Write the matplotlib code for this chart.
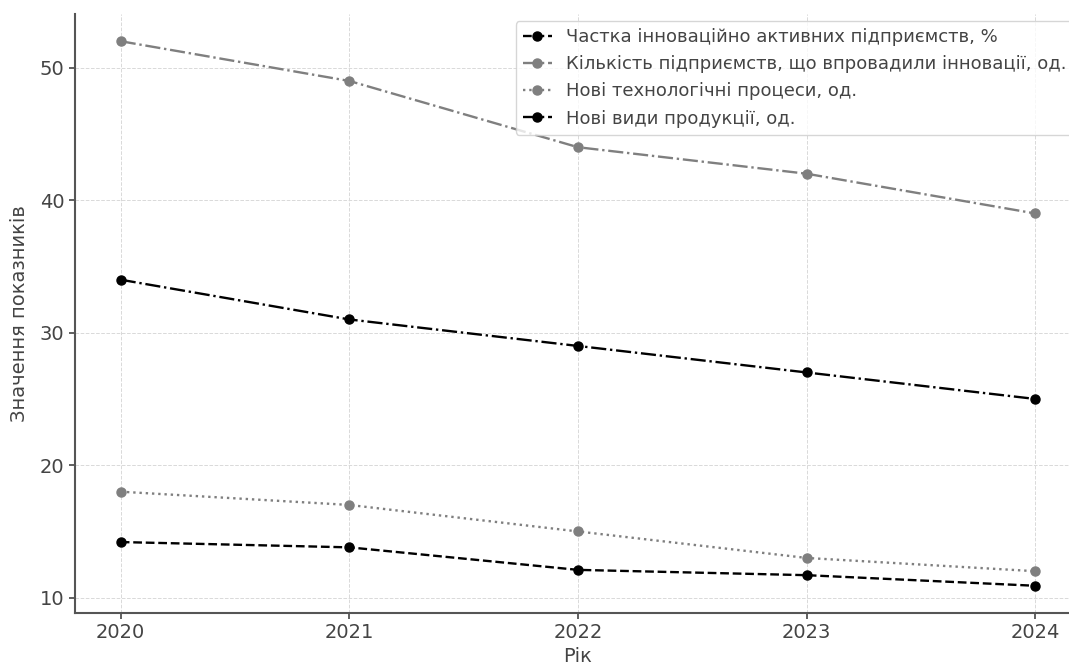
import matplotlib
matplotlib.use("Agg")
import matplotlib.pyplot as plt

years = [2020, 2021, 2022, 2023, 2024]
share_active = [14.2, 13.8, 12.1, 11.7, 10.9]
num_enterprises = [52, 49, 44, 42, 39]
new_processes = [18, 17, 15, 13, 12]
new_products = [34, 31, 29, 27, 25]

labels = [
    "Частка інноваційно активних підприємств, %",
    "Кількість підприємств, що впровадили інновації, од.",
    "Нові технологічні процеси, од.",
    "Нові види продукції, од.",
]

plt.rcParams['font.family'] = ['DejaVu Sans']
fig = plt.figure(figsize=(10.69, 6.66), dpi=100)
W, H = 1069, 666
left, right, top, bottom = 75, 1081, 14, 613
ax = fig.add_axes([left / W, 1 - bottom / H, (right - left) / W, (bottom - top) / H])

gray = "#7f7f7f"
kw = dict(marker="o", markersize=6.5, linewidth=1.7)
ax.plot(years, share_active, linestyle="--", color="black", label=labels[0], **kw)
ax.plot(years, num_enterprises, linestyle="-.", color=gray, label=labels[1], **kw)
ax.plot(years, new_processes, linestyle=":", color=gray, label=labels[2], **kw)
ax.plot(years, new_products, linestyle="-.", color="black", label=labels[3], **kw)

ax.set_xticks(years)
ax.set_yticks([10, 20, 30, 40, 50])
ax.tick_params(axis="both", labelsize=14, colors="#444444", length=4, width=1.2)
ax.grid(True, linestyle="--", color="#d9d9d9", linewidth=0.7)
for s in ["top", "right"]:
    ax.spines[s].set_visible(False)
for s in ["left", "bottom"]:
    ax.spines[s].set_color("#555555")
    ax.spines[s].set_linewidth(1.5)

ax.set_xlabel("Рік", fontsize=14, color="#444444", labelpad=3)
ax.set_ylabel("Значення показників", fontsize=14, color="#444444", labelpad=8)

leg = ax.legend(loc="upper right", fontsize=13, frameon=True, handlelength=1.6,
                borderaxespad=0.4)
for t in leg.get_texts():
    t.set_color("#444444")

fig.savefig("out.png", dpi=100)
